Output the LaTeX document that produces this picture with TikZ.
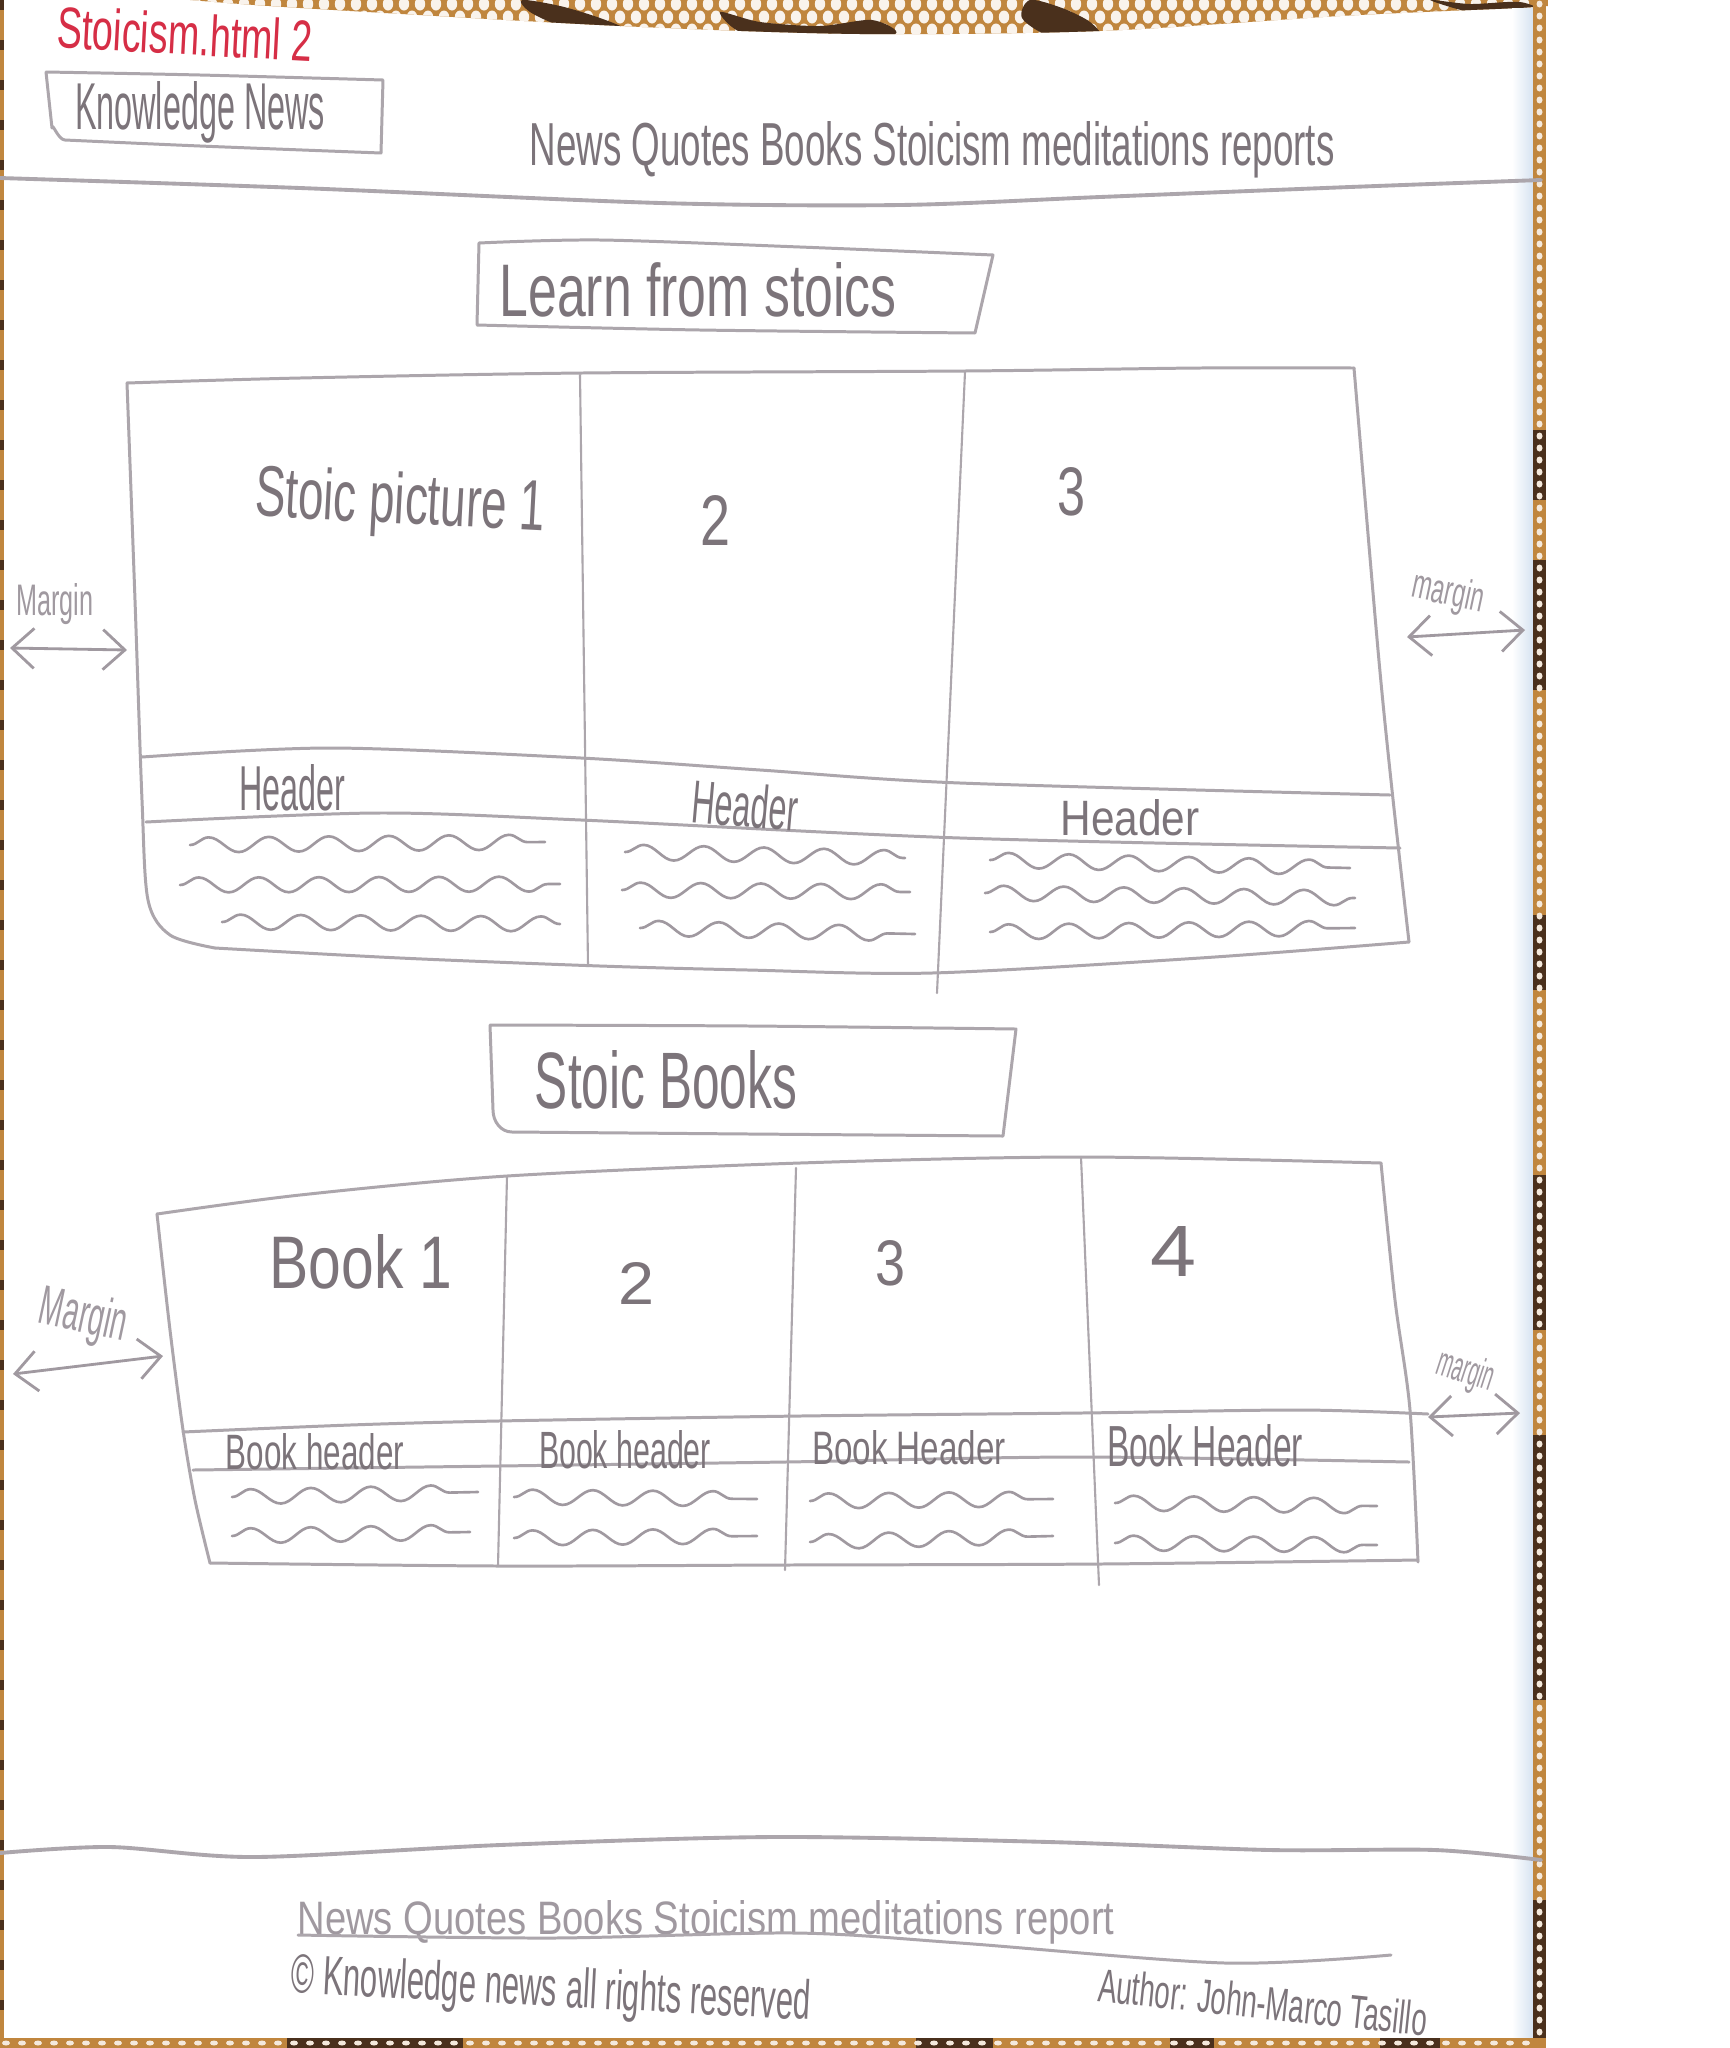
\documentclass[tikz,border=0pt]{standalone}
\usepackage{fontspec}
\setmainfont{Liberation Sans}
\usetikzlibrary{arrows.meta,decorations.pathmorphing}
\newlength\pxu
\setlength\pxu{0.01cm}
% handwritten label squeezed to a given width and height (page pixels)
\newcommand\hand[3]{\resizebox{#1\pxu}{#2\pxu}{#3}}

\definecolor{pencil}{RGB}{124,116,122}
\definecolor{pencilsoft}{RGB}{160,153,160}
\definecolor{pencilline}{RGB}{172,166,172}
\definecolor{redink}{RGB}{214,46,70}
\definecolor{cane}{RGB}{192,134,62}
\definecolor{bark}{RGB}{74,48,28}
\definecolor{edgeblue}{RGB}{214,227,241}

\begin{document}
\begin{tikzpicture}[x=0.01cm,y=-0.01cm,
  hw/.style={inner sep=0pt,outer sep=0pt,text=pencil},
  soft/.style={inner sep=0pt,outer sep=0pt,text=pencilsoft},
  sketch/.style={draw=pencilline,line width=0.85pt,line cap=round,line join=round},
  rule/.style={draw=pencilline,line width=1.1pt,line cap=round},
  divider/.style={draw=pencilline,line width=0.6pt,line cap=round},
  scribble/.style={draw=pencilsoft,line width=0.75pt,line cap=round,decorate,
     decoration={snake,amplitude=0.075cm,segment length=0.6cm}},
  margarrow/.style={draw=pencilsoft,line width=0.8pt,line cap=round,
     {Straight Barb[length=0.22cm,width=0.4cm]}-{Straight Barb[length=0.22cm,width=0.4cm]}},
]
\useasboundingbox (0,0) rectangle (1730,2048);
\fill[white] (0,0) rectangle (1730,2048);

% ---- woven table showing round the sheet ----
\begin{scope}
  \clip (190,0) -- (1548,0) -- (1548,6)
        -- plot[smooth] coordinates {(1520,8) (1340,16) (1100,31) (860,34) (620,26) (300,8) (190,0)} -- cycle;
  \fill[cane] (190,0) rectangle (1548,40);
  \foreach \c in {0,...,85} {
    \foreach \r in {0,1,2} {
      \fill[white!90!cane] ({196+\c*16+mod(\r,2)*8},{4+\r*13}) ellipse (5.2 and 6.5);
    }
  }
  \fill[bark] plot[smooth cycle] coordinates {(522,0) (560,6) (600,18) (626,30) (598,36) (560,26) (530,12)};
  \fill[bark] plot[smooth cycle] coordinates {(720,12) (760,22) (820,26) (872,20) (895,34) (820,40) (745,34)};
  \fill[bark] plot[smooth cycle] coordinates {(1030,0) (1062,8) (1090,22) (1100,38) (1050,36) (1022,18)};
  \fill[bark] plot[smooth cycle] coordinates {(1430,0) (1470,4) (1520,2) (1540,12) (1480,14)};
\end{scope}
\fill[cane] (0,0) rectangle (4,2048);
\foreach \y in {0,40,...,2040} { \fill[bark] (0,\y) rectangle (4,\y+10); }
\shade[left color=white,right color=edgeblue] (1512,8) rectangle (1533,2038);
\fill[cane] (1533,0) rectangle (1546,2048);
\foreach \a/\b in {430/500,560/690,915/990,1175/1330,1435/1700,1900/2040} {
  \fill[bark] (1533,\a) rectangle (1546,\b);
}
\foreach \y in {4,16,...,2044} { \fill[white!82!cane] (1539.5,\y) ellipse (3 and 3.5); }
\fill[cane] (0,2038) rectangle (1546,2048);
\foreach \a/\b in {287/463,916/993,1170/1214,1380/1440} {
  \fill[bark] (\a,2038) rectangle (\b,2048);
}
\foreach \x in {6,22,...,1540} { \fill[white!82!cane] (\x,2043) ellipse (4 and 2.5); }

% ---- header ----
\node[text=redink,inner sep=0pt,rotate=-3] (title) at (185,34) {\hand{256}{42}{Stoicism.html 2}};
\draw[sketch] plot[smooth] coordinates {(46,72) (200,75) (383,80)}
  -- (381,153) -- plot[smooth] coordinates {(381,153) (200,146) (65,140)}
  to[out=180,in=90] (52,128) -- (46,72);
\node[hw] (brand) at (200,112) {\hand{250}{48}{Knowledge News}};
\node[hw] (nav) at (932,150) {\hand{805}{44}{News Quotes Books Stoicism meditations reports}};
\draw[rule] plot[smooth] coordinates {(0,178) (300,188) (660,203) (900,205) (1100,197) (1350,187) (1541,180)};

% ---- section: learn from stoics ----
\draw[sketch] plot[smooth] coordinates {(479,243) (600,240) (800,247) (993,255)}
  -- (975,333) -- plot[smooth] coordinates {(975,333) (700,330) (477,325)} -- cycle;
\node[hw] (learn) at (698,290) {\hand{397}{54}{Learn from stoics}};

\draw[sketch] plot[smooth] coordinates {(127,383) (300,378) (582,373) (964,371) (1200,368) (1354,368)};
\draw[sketch] plot[smooth] coordinates {(127,383) (135,600) (142,800) (148,900) (170,935) (215,948)};
\draw[sketch] plot[smooth] coordinates {(215,948) (400,958) (600,966) (748,970) (932,973) (1200,958) (1409,942)};
\draw[sketch] plot[smooth] coordinates {(1354,368) (1378,650) (1392,790) (1409,942)};
\draw[divider] (580,375) -- (588,966);
\draw[divider] (965,372) -- (937,993);
\draw[sketch] plot[smooth] coordinates {(142,757) (331,748) (581,758) (760,770) (960,783) (1390,795)};
\draw[sketch] plot[smooth] coordinates {(146,822) (377,813) (581,820) (960,838) (1400,848)};

\node[hw,rotate=-3] (pic1) at (400,505) {\hand{290}{52}{Stoic picture 1}};
\node[hw] (pic2) at (715,520) {\hand{30}{50}{2}};
\node[hw] (pic3) at (1071,492) {\hand{28}{48}{3}};
\node[hw] (hd1) at (292,788) {\hand{106}{46}{Header}};
\node[hw,rotate=-5] (hd2) at (745,805) {\hand{106}{44}{Header}};
\node[hw] (hd3) at (1130,818) {\hand{139}{36}{Header}};

\draw[scribble] (190,845) -- (545,842);
\draw[scribble] (180,885) -- (560,884);
\draw[scribble] (222,922) -- (560,924);
\draw[scribble] (625,852) -- (905,858);
\draw[scribble] (622,890) -- (910,892);
\draw[scribble] (640,928) -- (915,934);
\draw[scribble] (990,860) -- (1350,868);
\draw[scribble] (985,893) -- (1355,898);
\draw[scribble] (990,932) -- (1355,928);

\node[soft] (mgl1) at (55,604) {\hand{77}{32}{Margin}};
\coordinate (mgl1a) at (10,648);
\coordinate (mgl1b) at (127,650);
\draw[margarrow] (mgl1a) -- (mgl1b);
\node[soft,rotate=-12] (mgr1) at (1448,594) {\hand{72}{30}{margin}};
\coordinate (mgr1a) at (1407,637);
\coordinate (mgr1b) at (1525,630);
\draw[margarrow] (mgr1a) -- (mgr1b);

% ---- section: stoic books ----
\draw[sketch] plot[smooth] coordinates {(490,1025) (750,1026) (1016,1029)}
  -- (1003,1136) -- plot[smooth] coordinates {(1003,1136) (750,1134) (512,1132)}
  to[out=180,in=-90] (493,1110) -- (490,1025);
\node[hw] (books) at (666,1080) {\hand{262}{58}{Stoic Books}};

\draw[sketch] plot[smooth] coordinates {(157,1214) (300,1195) (507,1176) (800,1163) (1081,1157) (1381,1163)};
\draw[sketch] plot[smooth] coordinates {(157,1214) (170,1330) (183,1430) (195,1500) (210,1563)};
\draw[sketch] plot[smooth] coordinates {(1381,1163) (1395,1300) (1410,1410) (1418,1562)};
\draw[sketch] plot[smooth] coordinates {(210,1563) (500,1566) (785,1565) (1100,1564) (1418,1560)};
\draw[divider] (507,1176) -- (498,1566);
\draw[divider] (796,1168) -- (785,1570);
\draw[divider] (1081,1157) -- (1099,1585);
\draw[sketch] plot[smooth] coordinates {(183,1432) (350,1425) (498,1421) (800,1416) (1081,1413) (1300,1410) (1428,1414)};
\draw[sketch] plot[smooth] coordinates {(193,1470) (498,1466) (785,1462) (1081,1457) (1409,1462)};

\node[hw] (bk1) at (361,1262) {\hand{183}{54}{Book 1}};
\node[hw] (bk2) at (636,1283) {\hand{36}{42}{2}};
\node[hw] (bk3) at (890,1263) {\hand{30}{45}{3}};
\node[hw] (bk4) at (1173,1251) {\hand{46}{50}{4}};
\node[hw] (bh1) at (315,1452) {\hand{178}{36}{Book header}};
\node[hw] (bh2) at (625,1450) {\hand{172}{38}{Book header}};
\node[hw] (bh3) at (909,1448) {\hand{194}{34}{Book Header}};
\node[hw] (bh4) at (1205,1446) {\hand{196}{42}{Book Header}};

\draw[scribble] (232,1497) -- (478,1492);
\draw[scribble] (232,1536) -- (470,1532);
\draw[scribble] (514,1497) -- (757,1499);
\draw[scribble] (514,1538) -- (757,1536);
\draw[scribble] (810,1501) -- (1053,1499);
\draw[scribble] (810,1542) -- (1053,1536);
\draw[scribble] (1115,1503) -- (1377,1506);
\draw[scribble] (1115,1543) -- (1377,1545);

\node[soft,rotate=-12] (mgl2) at (83,1318) {\hand{88}{40}{Margin}};
\coordinate (mgl2a) at (13,1374);
\coordinate (mgl2b) at (163,1356);
\draw[margarrow] (mgl2a) -- (mgl2b);
\node[soft,rotate=-18] (mgr2) at (1465,1372) {\hand{58}{30}{margin}};
\coordinate (mgr2a) at (1428,1417);
\coordinate (mgr2b) at (1520,1413);
\draw[margarrow] (mgr2a) -- (mgr2b);

% ---- footer ----
\draw[rule] plot[smooth] coordinates {(0,1853) (110,1847) (254,1857) (500,1845) (773,1837) (1049,1842) (1270,1850) (1435,1850) (1541,1860)};
\node[soft,anchor=base] (fnav) at (706,1934) {\hand{817}{34}{News Quotes Books Stoicism meditations report}};
\draw[sketch] plot[smooth] coordinates {(298,1935) (552,1938) (795,1933) (960,1943) (1225,1963) (1391,1955)};
\node[hw,rotate=-3] (copy) at (551,1992) {\hand{520}{40}{© Knowledge news all rights reserved}};
\node[hw,rotate=-6] (author) at (1263,2002) {\hand{330}{34}{Author: John-Marco Tasillo}};
\end{tikzpicture}
\end{document}
